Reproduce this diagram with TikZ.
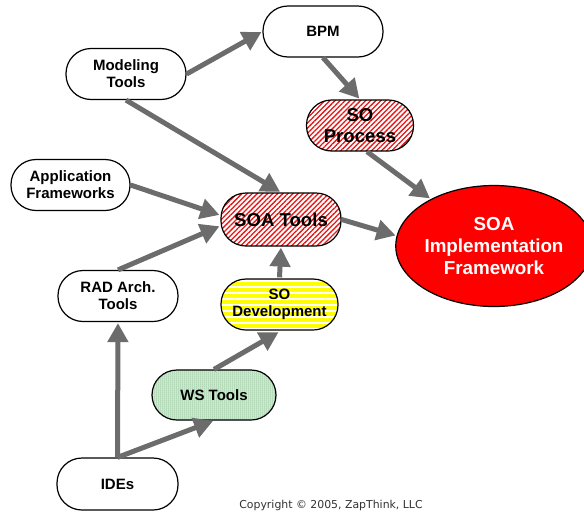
\documentclass[tikz,border=0pt]{standalone}
\usepackage{fontspec}
\setmainfont{Liberation Sans}
\newfontfamily\copyfont{DejaVu Sans}
\usetikzlibrary{arrows.meta,patterns.meta,shapes.geometric}
\definecolor{arrowgray}{RGB}{108,108,108}
\definecolor{hatchred}{RGB}{230,20,20}
\definecolor{dotgreen}{RGB}{40,140,60}
\definecolor{palegreen}{RGB}{222,240,222}
\definecolor{copygray}{RGB}{50,50,50}
\tikzset{
  pill/.style={draw, line width=1.2pt, rounded corners=25pt, minimum width=120pt,
    minimum height=51pt, align=center, inner sep=0pt,
    font=\bfseries\fontsize{15}{17}\selectfont},
  bigpill/.style={pill, font=\bfseries\fontsize{18.6}{21}\selectfont},
  redhatch/.style={pattern={Lines[angle=45,distance=3.6pt,line width=1.3pt]}, pattern color=hatchred},
  yellowstripe/.style={pattern={Lines[angle=0,distance=6pt,line width=3.2pt]}, pattern color=yellow},
  greendots/.style={preaction={fill=palegreen}, pattern={Dots[distance=2pt,radius=0.5pt]}, pattern color=dotgreen},
  conn/.style={draw=arrowgray, line width=5pt, -{Triangle[length=19pt,width=20pt]}, shorten >=1pt}
}
\begin{document}
\begin{tikzpicture}[x=1pt,y=-1pt]
\useasboundingbox (0,0) rectangle (584,512);
% nodes
\node[pill] (bpm) at (323,31.5) {BPM};
\node[pill] (mt) at (126,74) {Modeling\\Tools};
\node[bigpill, redhatch, minimum width=107pt] (sop) at (360,125.5) {SO\\Process};
\node[pill, minimum width=119pt] (af) at (70.5,185) {Application\\Frameworks};
\node[bigpill, redhatch, minimum height=53pt] (soat) at (281,219.5) {SOA Tools};
\node[draw, line width=1.2pt, ellipse, fill=red, minimum width=182pt, minimum height=121pt,
      inner sep=0pt, align=center, text=white, font=\bfseries\fontsize{18.8}{22}\selectfont]
      (impl) at (494,246) {SOA\\Implementation\\Framework};
\node[pill] (rad) at (118,296) {RAD Arch.\\Tools};
\node[pill, yellowstripe, minimum width=117pt] (sod) at (279.5,304.5) {SO\\Development};
\node[pill, greendots, minimum width=124pt, minimum height=50pt] (ws) at (214,395) {WS Tools};
\node[pill, minimum width=121pt, minimum height=52pt] (ides) at (117.5,484) {IDEs};
\node[font=\copyfont\fontsize{10.9}{12}\selectfont, text=copygray] (copy) at (331,505) {Copyright \textcopyright\ 2005, ZapThink, LLC};
% connectors
\draw[conn] (mt.east) -- (bpm.west);
\draw[conn] (bpm.south) -- (sop.north);
\draw[conn] (mt.south) -- (soat.north);
\draw[conn] (sop.-75) -- (impl);
\draw[conn] (af.east) -- (soat.176);
\draw[conn] (rad.north) -- (soat.186);
\draw[conn] (soat.east) -- (impl.174);
\draw[conn] (sod.north) -- (soat.south);
\draw[conn] (ides.north) -- (rad.south);
\draw[conn] (ides.north) -- (ws.south);
\draw[conn] (ws.north) -- (sod.south);
\end{tikzpicture}
\end{document}
